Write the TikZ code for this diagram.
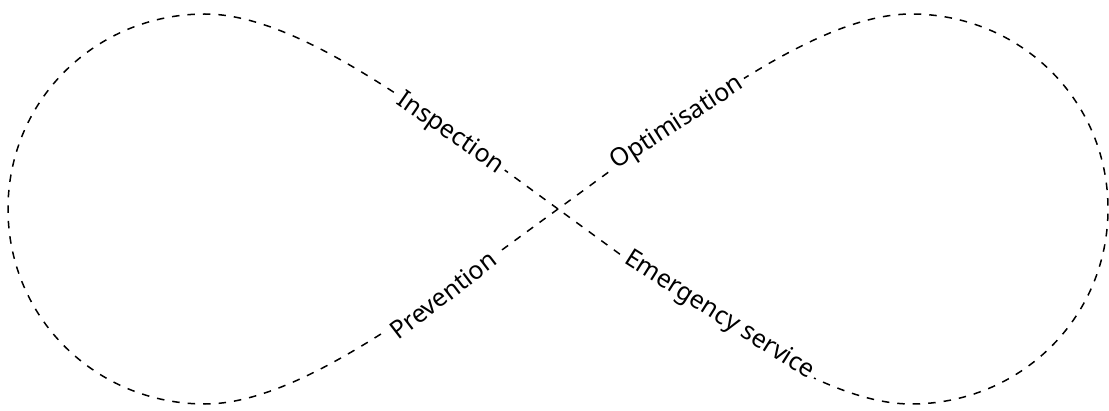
\documentclass[tikz,border=0pt]{standalone}
\usepackage{fontspec}
\newfontfamily\lblfamily{Noto Sans}
\tikzset{
  loopline/.style={line width=1.5pt, dash pattern=on 7.5pt off 8pt, line cap=butt},
  lbl/.style={fill=white, inner xsep=4pt, inner ysep=2pt,
    font=\lblfamily\fontsize{25pt}{30pt}\selectfont},
}
\begin{document}
\begin{tikzpicture}[x=1pt,y=1pt]
\useasboundingbox (0,0) rectangle (1109,410);
\coordinate (C) at (558,201);
\coordinate (TL) at (205,396);
\coordinate (L) at (8,201);
\coordinate (BL) at (205,6);
\coordinate (TR) at (911,396);
\coordinate (R) at (1108,201);
\coordinate (BR) at (911,6);
\draw[loopline] (C) .. controls (430,294) and (300,396) .. (TL)
  .. controls (96,396) and (8,310) .. (L)
  .. controls (8,92) and (96,6) .. (BL)
  .. controls (300,6) and (430,108) .. (C)
  .. controls (686,294) and (816,396) .. (TR)
  .. controls (1020,396) and (1108,310) .. (R)
  .. controls (1108,92) and (1020,6) .. (BR)
  .. controls (816,6) and (686,108) .. (C);
\node[lbl, rotate=-34.8] (insp) at (450,276.5) {Inspection};
\node[lbl, rotate=32.8] (opt) at (677.5,286.5) {Optimisation};
\node[lbl, rotate=37.5] (prev) at (443,115) {Prevention};
\node[lbl, rotate=-32.3] (emer) at (719,94.5) {Emergency service};
\end{tikzpicture}
\end{document}
